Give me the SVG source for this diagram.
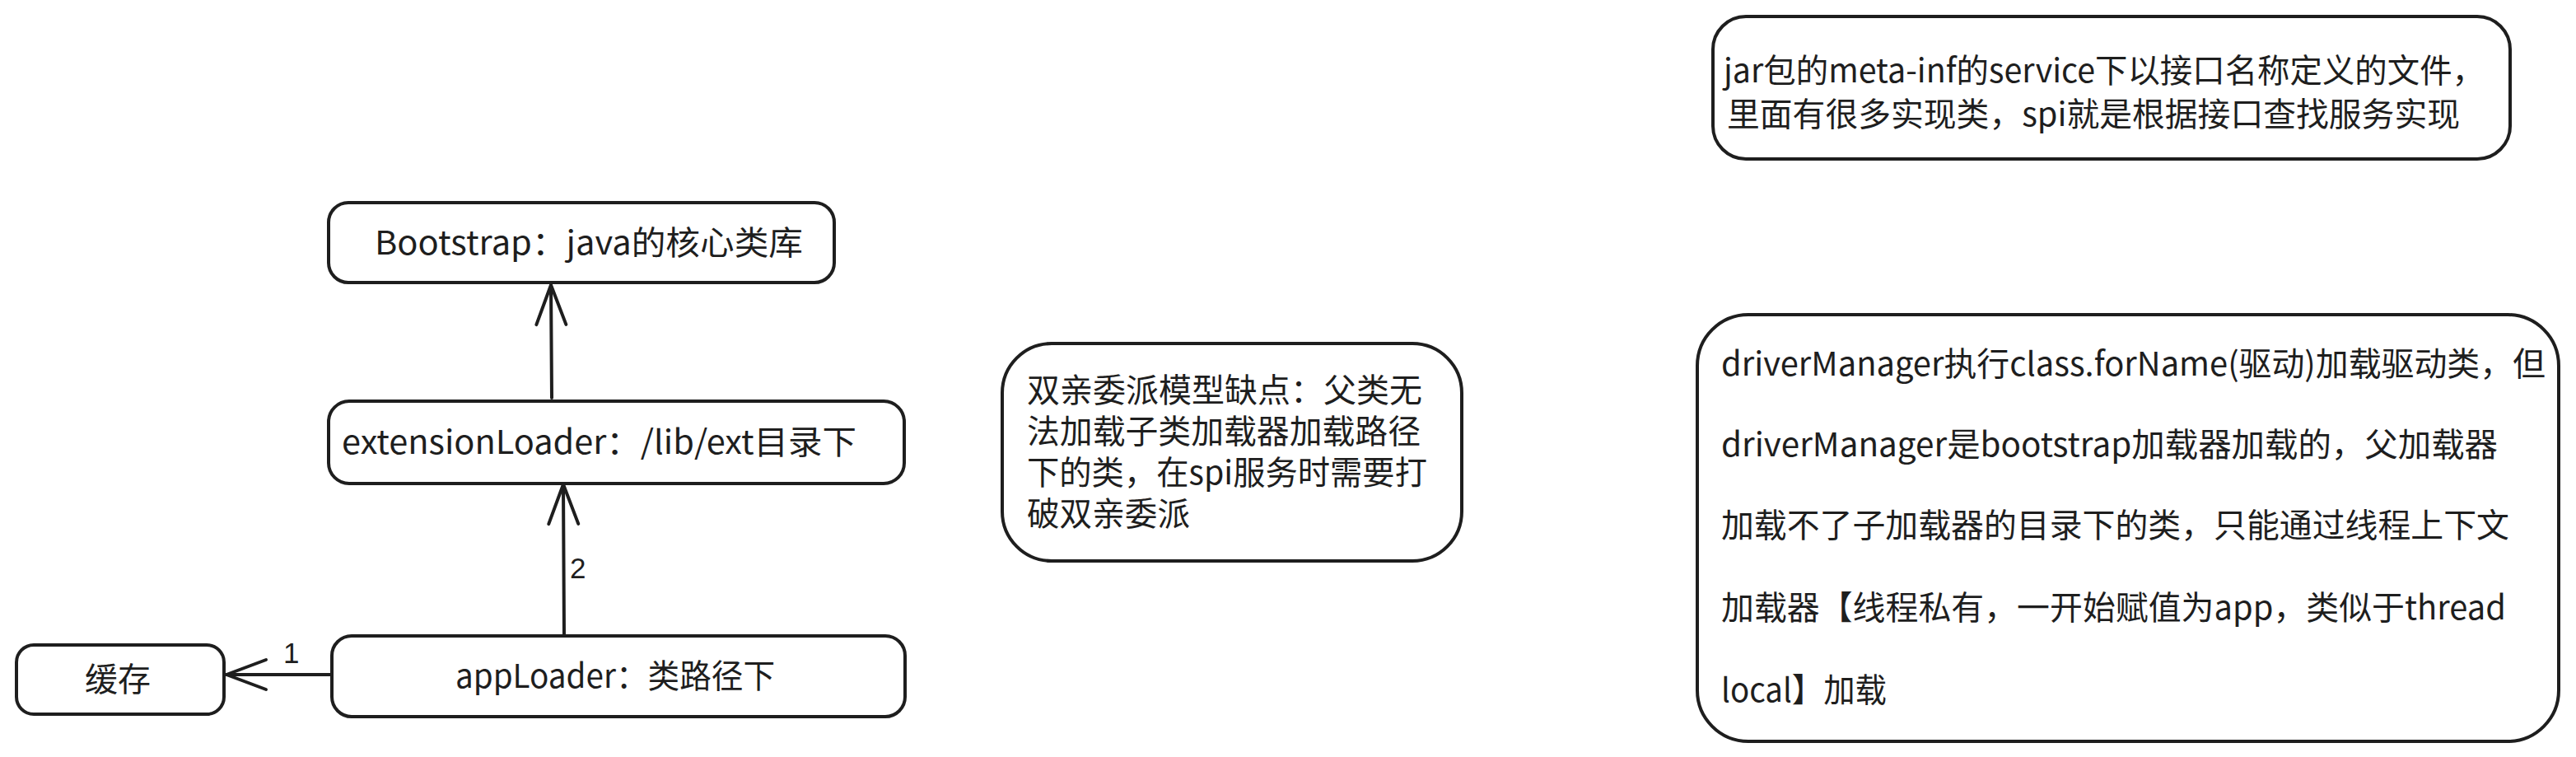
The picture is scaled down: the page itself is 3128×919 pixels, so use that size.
<svg xmlns="http://www.w3.org/2000/svg" width="3128" height="919" viewBox="0 0 3128 919">
<style>
.box{fill:#ffffff;stroke:#1e1e1e;stroke-width:4;stroke-linejoin:round}
.t{font-family:"Noto Sans CJK SC","Liberation Sans",sans-serif;font-size:40px;fill:#1e1e1e}
.lbl{font-family:"Liberation Sans","Noto Sans CJK SC",sans-serif;font-size:35px;fill:#1e1e1e}
.edge{fill:none;stroke:#1e1e1e;stroke-width:4;stroke-linecap:round}
</style>
<defs>
<marker id="open" markerUnits="userSpaceOnUse" viewBox="-56 -26 62 52" markerWidth="62" markerHeight="52" refX="0" refY="0" orient="auto" overflow="visible">
<path d="M-48,-18 L0,0 L-48,18" fill="none" stroke="#1e1e1e" stroke-width="4" stroke-linecap="round" stroke-linejoin="round"/>
</marker>
</defs>
<rect width="3128" height="919" fill="#ffffff"/>

<g id="connectors">
<path class="edge" d="M670,483 L669,346" marker-end="url(#open)"/>
<path class="edge" d="M685,772 L684,588" marker-end="url(#open)"/>
<path class="edge" d="M402,819 L275,819" marker-end="url(#open)"/>
<text class="lbl" x="344" y="805">1</text>
<text class="lbl" x="692" y="702">2</text>
</g>

<g id="bootstrap">
<rect class="box" x="399" y="246" width="614" height="97" rx="24"/>
<text class="t" x="455" y="309" textLength="520" lengthAdjust="spacingAndGlyphs">Bootstrap：java的核心类库</text>
</g>

<g id="extensionLoader">
<rect class="box" x="399" y="487" width="699" height="100" rx="25"/>
<text class="t" x="415" y="551" textLength="625" lengthAdjust="spacingAndGlyphs">extensionLoader：/lib/ext目录下</text>
</g>

<g id="appLoader">
<rect class="box" x="403" y="772" width="696" height="98" rx="24"/>
<text class="t" x="553" y="835" textLength="388" lengthAdjust="spacingAndGlyphs">appLoader：类路径下</text>
</g>

<g id="cache">
<rect class="box" x="20" y="783" width="252" height="84" rx="21"/>
<text class="t" x="143" y="839" text-anchor="middle">缓存</text>
</g>

<g id="note-parent-delegation">
<rect class="box" x="1217" y="417" width="558" height="264" rx="60"/>
<text class="t" x="1247" y="488" textLength="480" lengthAdjust="spacingAndGlyphs">双亲委派模型缺点：父类无</text>
<text class="t" x="1247" y="538" textLength="478" lengthAdjust="spacingAndGlyphs">法加载子类加载器加载路径</text>
<text class="t" x="1247" y="588" textLength="486" lengthAdjust="spacingAndGlyphs">下的类，在spi服务时需要打</text>
<text class="t" x="1247" y="638" textLength="198" lengthAdjust="spacingAndGlyphs">破双亲委派</text>
</g>

<g id="note-spi">
<rect class="box" x="2080" y="20" width="968" height="173" rx="40"/>
<text class="t" x="2093" y="100" textLength="924" lengthAdjust="spacingAndGlyphs">jar包的meta-inf的service下以接口名称定义的文件，</text>
<text class="t" x="2097" y="153" textLength="890" lengthAdjust="spacingAndGlyphs">里面有很多实现类，spi就是根据接口查找服务实现</text>
</g>

<g id="note-driver-manager">
<rect class="box" x="2061" y="382" width="1046" height="518" rx="62"/>
<text class="t" x="2090" y="456" textLength="1001" lengthAdjust="spacingAndGlyphs">driverManager执行class.forName(驱动)加载驱动类，但</text>
<text class="t" x="2090" y="554" textLength="943" lengthAdjust="spacingAndGlyphs">driverManager是bootstrap加载器加载的，父加载器</text>
<text class="t" x="2090" y="652" textLength="957" lengthAdjust="spacingAndGlyphs">加载不了子加载器的目录下的类，只能通过线程上下文</text>
<text class="t" x="2090" y="752" textLength="953" lengthAdjust="spacingAndGlyphs">加载器【线程私有，一开始赋值为app，类似于thread</text>
<text class="t" x="2090" y="852" textLength="201" lengthAdjust="spacingAndGlyphs">local】加载</text>
</g>
</svg>
